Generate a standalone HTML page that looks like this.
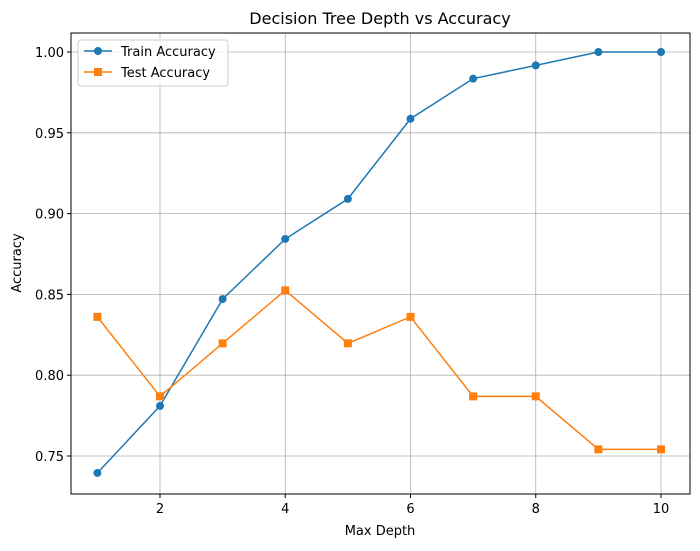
<!DOCTYPE html>
<html><head><meta charset="utf-8"><style>
body{margin:0;background:#fff;font-family:"DejaVu Sans","Liberation Sans",sans-serif;}
svg text{font-family:"DejaVu Sans","Liberation Sans",sans-serif;}
</style></head><body>
<svg id="chart" width="700" height="547" xmlns="http://www.w3.org/2000/svg">
<rect width="700" height="547" fill="#fff"/>
<g id="grid"></g>
<g id="ticks"></g>
<g id="series"></g>
<rect x="71" y="33" width="619" height="461" fill="none" stroke="#000" stroke-width="1"/>
<text x="380" y="24" font-size="16" text-anchor="middle">Decision Tree Depth vs Accuracy</text>
<text x="380" y="535" font-size="13" text-anchor="middle">Max Depth</text>
<text transform="translate(21,263) rotate(-90)" font-size="13" text-anchor="middle">Accuracy</text>
<g>
<rect x="78" y="40" width="150" height="46" rx="3" fill="#fff" fill-opacity="0.8" stroke="#ccc"/>
<line x1="84" y1="51" x2="112" y2="51" stroke="#1f77b4" stroke-width="1.5"/>
<circle cx="98" cy="51" r="4" fill="#1f77b4"/>
<text x="121" y="56" font-size="13">Train Accuracy</text>
<line x1="84" y1="72" x2="112" y2="72" stroke="#ff7f0e" stroke-width="1.5"/>
<rect x="94" y="68" width="8" height="8" fill="#ff7f0e"/>
<text x="121" y="77" font-size="13">Test Accuracy</text>
</g>
</svg>
<script>
const depths=[1,2,3,4,5,6,7,8,9,10];
const trainAcc=[0.7395,0.7810,0.8471,0.8843,0.9091,0.9587,0.9835,0.9917,1.0,1.0];
const testAcc=[0.8361,0.7869,0.8197,0.8525,0.8197,0.8361,0.7869,0.7869,0.7541,0.7541];
const xTicks=[2,4,6,8,10];
const yTicks=[0.75,0.80,0.85,0.90,0.95,1.00];
const NS='http://www.w3.org/2000/svg';
function xs(v){return 160+(v-2)*(661-160)/8;}
function ys(v){return 52+(1-v)*(456-52)/0.25;}
function mk(tag,attrs,parent){const e=document.createElementNS(NS,tag);for(const k in attrs)e.setAttribute(k,attrs[k]);parent.appendChild(e);return e;}
const grid=document.getElementById('grid'),ticks=document.getElementById('ticks'),series=document.getElementById('series');
xTicks.forEach(t=>{const x=xs(t);
const g=mk('line',{x1:x,x2:x,y1:33,y2:494,stroke:'#b0b0b0','stroke-width':0.8},grid);


mk('line',{x1:x,x2:x,y1:494,y2:498,stroke:'#000'},ticks);
const l=mk('text',{x:x,y:513,'font-size':13,'text-anchor':'middle'},ticks);l.textContent=t;

});
yTicks.forEach(t=>{const y=ys(t);
const g=mk('line',{x1:71,x2:690,y1:y,y2:y,stroke:'#b0b0b0','stroke-width':0.8},grid);


mk('line',{x1:67,x2:71,y1:y,y2:y,stroke:'#000'},ticks);
const l=mk('text',{x:64,y:y+5,'font-size':13,'text-anchor':'end'},ticks);l.textContent=t.toFixed(2);

});
function draw(vals,color,square,name){
const p=mk('polyline',{points:depths.map((d,i)=>xs(d)+','+ys(vals[i])).join(' '),fill:'none',stroke:color,'stroke-width':1.5},series);


depths.forEach((d,i)=>{let m;
if(square)m=mk('rect',{x:xs(d)-4,y:ys(vals[i])-4,width:8,height:8,fill:color},series);
else m=mk('circle',{cx:xs(d),cy:ys(vals[i]),r:4,fill:color},series);

});}
draw(trainAcc,'#1f77b4',false,'train');
draw(testAcc,'#ff7f0e',true,'test');
</script>
</body></html>
